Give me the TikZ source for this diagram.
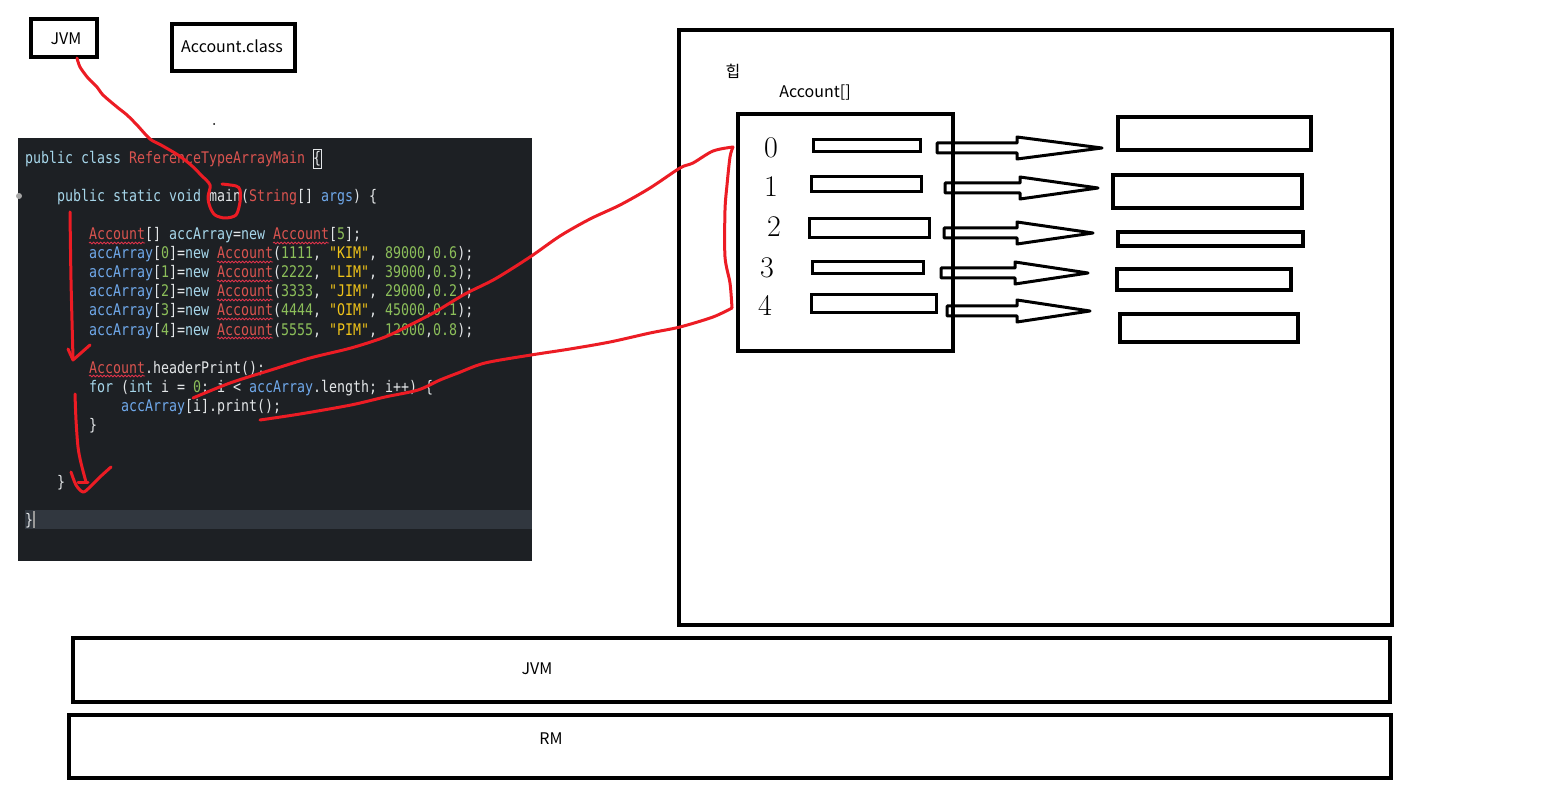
\documentclass[tikz,border=0pt]{standalone}
\usepackage{fontspec}
\newfontfamily\kr{Noto Sans CJK KR}
\newfontfamily\codefont[FakeStretch=0.8306]{DejaVu Sans Mono}
\usetikzlibrary{decorations.pathmorphing}
\definecolor{cbg}{HTML}{1D2024}
\definecolor{chl}{HTML}{31373F}
\definecolor{ckw}{HTML}{A6D6EA}
\definecolor{ccl}{HTML}{D9534F}
\definecolor{cid}{HTML}{6FA8EA}
\definecolor{cpl}{HTML}{E3E6E8}
\definecolor{cnu}{HTML}{8CBF5A}
\definecolor{cst}{HTML}{F0C419}
\definecolor{inkred}{HTML}{EC1C24}
\definecolor{sqred}{HTML}{E0324A}
\newcommand\cKW[1]{\textcolor{ckw}{#1}}
\newcommand\cCL[1]{\textcolor{ccl}{#1}}
\newcommand\cID[1]{\textcolor{cid}{#1}}
\newcommand\cNU[1]{\textcolor{cnu}{#1}}
\newcommand\cST[1]{\textcolor{cst}{#1}}
\newcommand\hollowarrow[4]{%
  \draw[harrow] (#1,#4-5) -- (#2,#4-5) -- (#2,#4-11) -- (#3,#4) -- (#2,#4+11) -- (#2,#4+5) -- (#1,#4+5) -- cycle;}
\tikzset{
  box/.style={draw, line width=4pt, inner sep=0pt},
  slot/.style={draw, line width=3.5pt, inner sep=0pt},
  lbl/.style={inner sep=0pt, font=\kr\fontsize{16}{16}\selectfont},
  digit/.style={inner sep=0pt, font=\fontsize{30}{30}\selectfont},
  codeline/.style={anchor=base west, inner sep=0pt, font=\codefont\fontsize{16}{16}\selectfont, text=cpl},
  redink/.style={draw=inkred, line width=3pt, line cap=round, line join=round},
  squig/.style={draw=sqred, line width=0.8pt, decorate, decoration={snake, amplitude=0.9pt, segment length=3.5pt}},
  harrow/.style={draw, line width=3pt, line join=round},
}
\begin{document}
\begin{tikzpicture}[x=1pt,y=-1pt]
\useasboundingbox[fill=white] (0,0) rectangle (1562,799);

% top-left boxes
\node[box, minimum width=66pt, minimum height=38pt] (jvm) at (64,38) {};
\node[lbl] (jvmt) at (66,39) {JVM};
\node[box, minimum width=123pt, minimum height=47pt] (acls) at (233.5,47.5) {};
\node[lbl] (aclst) at (232,46) {Account.class};
\fill (214,124) circle (1);

% code panel
\node[fill=cbg, minimum width=514pt, minimum height=423pt, inner sep=0pt] (code) at (275,349.5) {};
\fill[chl] (25,510) rectangle (532,529);
\fill[gray!70] (19,196) circle (3);
\node[codeline] (c0) at (25,164) {\cKW{public class }\cCL{ReferenceTypeArrayMain} \{};
\draw[cpl, line width=0.8pt] (313,149) rectangle (321,168);
\node[codeline] (c2) at (57,202) {\cKW{public static void }main(\cCL{String}[] \cID{args}) \{};
\node[codeline] (c4) at (89,240) {\cCL{Account}[] \cKW{accArray}=\cKW{new} \cCL{Account}[\cNU{5}];};
\node[codeline] (c5) at (89,259) {\cID{accArray}[\cNU{0}]=\cKW{new} \cCL{Account}(\cNU{1111}, \cST{"KIM"}, \cNU{89000},\cNU{0.6});};
\node[codeline] (c6) at (89,278) {\cID{accArray}[\cNU{1}]=\cKW{new} \cCL{Account}(\cNU{2222}, \cST{"LIM"}, \cNU{39000},\cNU{0.3});};
\node[codeline] (c7) at (89,297) {\cID{accArray}[\cNU{2}]=\cKW{new} \cCL{Account}(\cNU{3333}, \cST{"JIM"}, \cNU{29000},\cNU{0.2});};
\node[codeline] (c8) at (89,316) {\cID{accArray}[\cNU{3}]=\cKW{new} \cCL{Account}(\cNU{4444}, \cST{"OIM"}, \cNU{45000},\cNU{0.1});};
\node[codeline] (c9) at (89,335) {\cID{accArray}[\cNU{4}]=\cKW{new} \cCL{Account}(\cNU{5555}, \cST{"PIM"}, \cNU{12000},\cNU{0.8});};
\node[codeline] (c11) at (89,373) {\cCL{Account}.headerPrint();};
\node[codeline] (c12) at (89,392) {\cKW{for} (\cKW{int} i = \cNU{0}; i < \cID{accArray}.length; i++) \{};
\node[codeline] (c13) at (121,411) {\cID{accArray}[i].print();};
\node[codeline] (c14) at (89,430) {\}};
\node[codeline] (c17) at (57,487) {\}};
\node[codeline] (c19) at (25,525) {\}};
\fill[gray!80] (33,511) rectangle (35,528);
% squiggles
\foreach \xa/\yb in {89/243, 273/243, 217/262, 217/281, 217/300, 217/319, 217/338, 89/376}
  \draw[squig] (\xa,\yb) -- (\xa+56,\yb);

% heap
\node[box, minimum width=713pt, minimum height=595pt] (heap) at (1035.5,327.5) {};
\node[lbl] (heapt) at (733,71) {\kr 힙};
\node[lbl] (arrt) at (815,93) {Account[]};
\node[box, minimum width=215pt, minimum height=237pt] (arr) at (845.5,232.5) {};
\node[digit] (d0) at (771,148) {0};
\node[digit] (d1) at (771,187) {1};
\node[digit] (d2) at (774,227) {2};
\node[digit] (d3) at (767,268) {3};
\node[digit] (d4) at (765,305) {4};
\node[slot, minimum width=107pt, minimum height=12pt] (s0) at (867,145.5) {};
\node[slot, minimum width=110pt, minimum height=15pt] (s1) at (866.5,184) {};
\node[slot, minimum width=120pt, minimum height=19pt] (s2) at (869.5,228) {};
\node[slot, minimum width=111pt, minimum height=12pt] (s3) at (868,267.5) {};
\node[slot, minimum width=125pt, minimum height=18pt] (s4) at (874,303.5) {};
\node[box, minimum width=193pt, minimum height=33pt] (t0) at (1214.5,133.5) {};
\node[box, minimum width=189pt, minimum height=33pt] (t1) at (1207.5,191.5) {};
\node[box, minimum width=185pt, minimum height=14pt] (t2) at (1210.5,239) {};
\node[box, minimum width=174pt, minimum height=21pt] (t3) at (1204,279.5) {};
\node[box, minimum width=178pt, minimum height=28pt] (t4) at (1209,328) {};
\hollowarrow{937}{1017}{1102}{148}
\hollowarrow{945}{1020}{1098}{188}
\hollowarrow{944}{1017}{1093}{233}
\hollowarrow{941}{1015}{1088}{273}
\hollowarrow{947}{1017}{1090}{311}

% bottom boxes
\node[box, minimum width=1317pt, minimum height=64pt] (jvmb) at (731.5,670) {};
\node[lbl] (jvmbt) at (537,669) {JVM};
\node[box, minimum width=1322pt, minimum height=63pt] (rm) at (730,746.5) {};
\node[lbl] (rmt) at (551,739) {RM};

% red ink
\coordinate (arrTL) at (733,147);
\coordinate (arrBL) at (732,308);
\draw[redink] plot[smooth, tension=0.5] coordinates {(77,58) (80,67) (88,78) (97,87) (103,95) (117,107) (127,115) (137,125) (150,139) (161,145) (178,155) (191,165) (201,175) (210,185) (208,197) (210,207) (215,215) (225,218) (236,215) (240,202) (240,190) (236,186) (222,184)};
\draw[redink] plot[smooth, tension=0.5] coordinates {(70,212) (71,280) (73,358)};
\draw[redink] (68,349) -- (73,360) -- (90,345);
\draw[redink] plot[smooth, tension=0.5] coordinates {(75,394) (76,420) (78,447) (81,463) (86,482)};
\draw[redink] plot[smooth, tension=0.5] coordinates {(71,472) (76,485) (83,492) (90,487) (100,477) (111,467)};
\draw[redink] (78,482) -- (88,482);
\draw[redink] plot[smooth, tension=0.5] coordinates {(193,398) (230,383) (271,370) (310,358) (351,348) (385,337) (410,325) (435,312) (465,294) (495,279) (530,257) (560,236) (590,219) (620,205) (650,188) (680,168) (693,163) (713,151) (arrTL)};
\draw[redink] plot[smooth, tension=0.5] coordinates {(260,420) (300,414) (351,405) (385,397) (418,390) (440,380) (458,373) (485,363) (531,355) (570,349) (610,342) (650,333) (680,327) (713,317) (arrBL)};
\draw[redink] plot[smooth, tension=0.5] coordinates {(arrTL) (730,157) (727,185) (725,210) (725,257) (730,283) (arrBL)};
\end{tikzpicture}
\end{document}
